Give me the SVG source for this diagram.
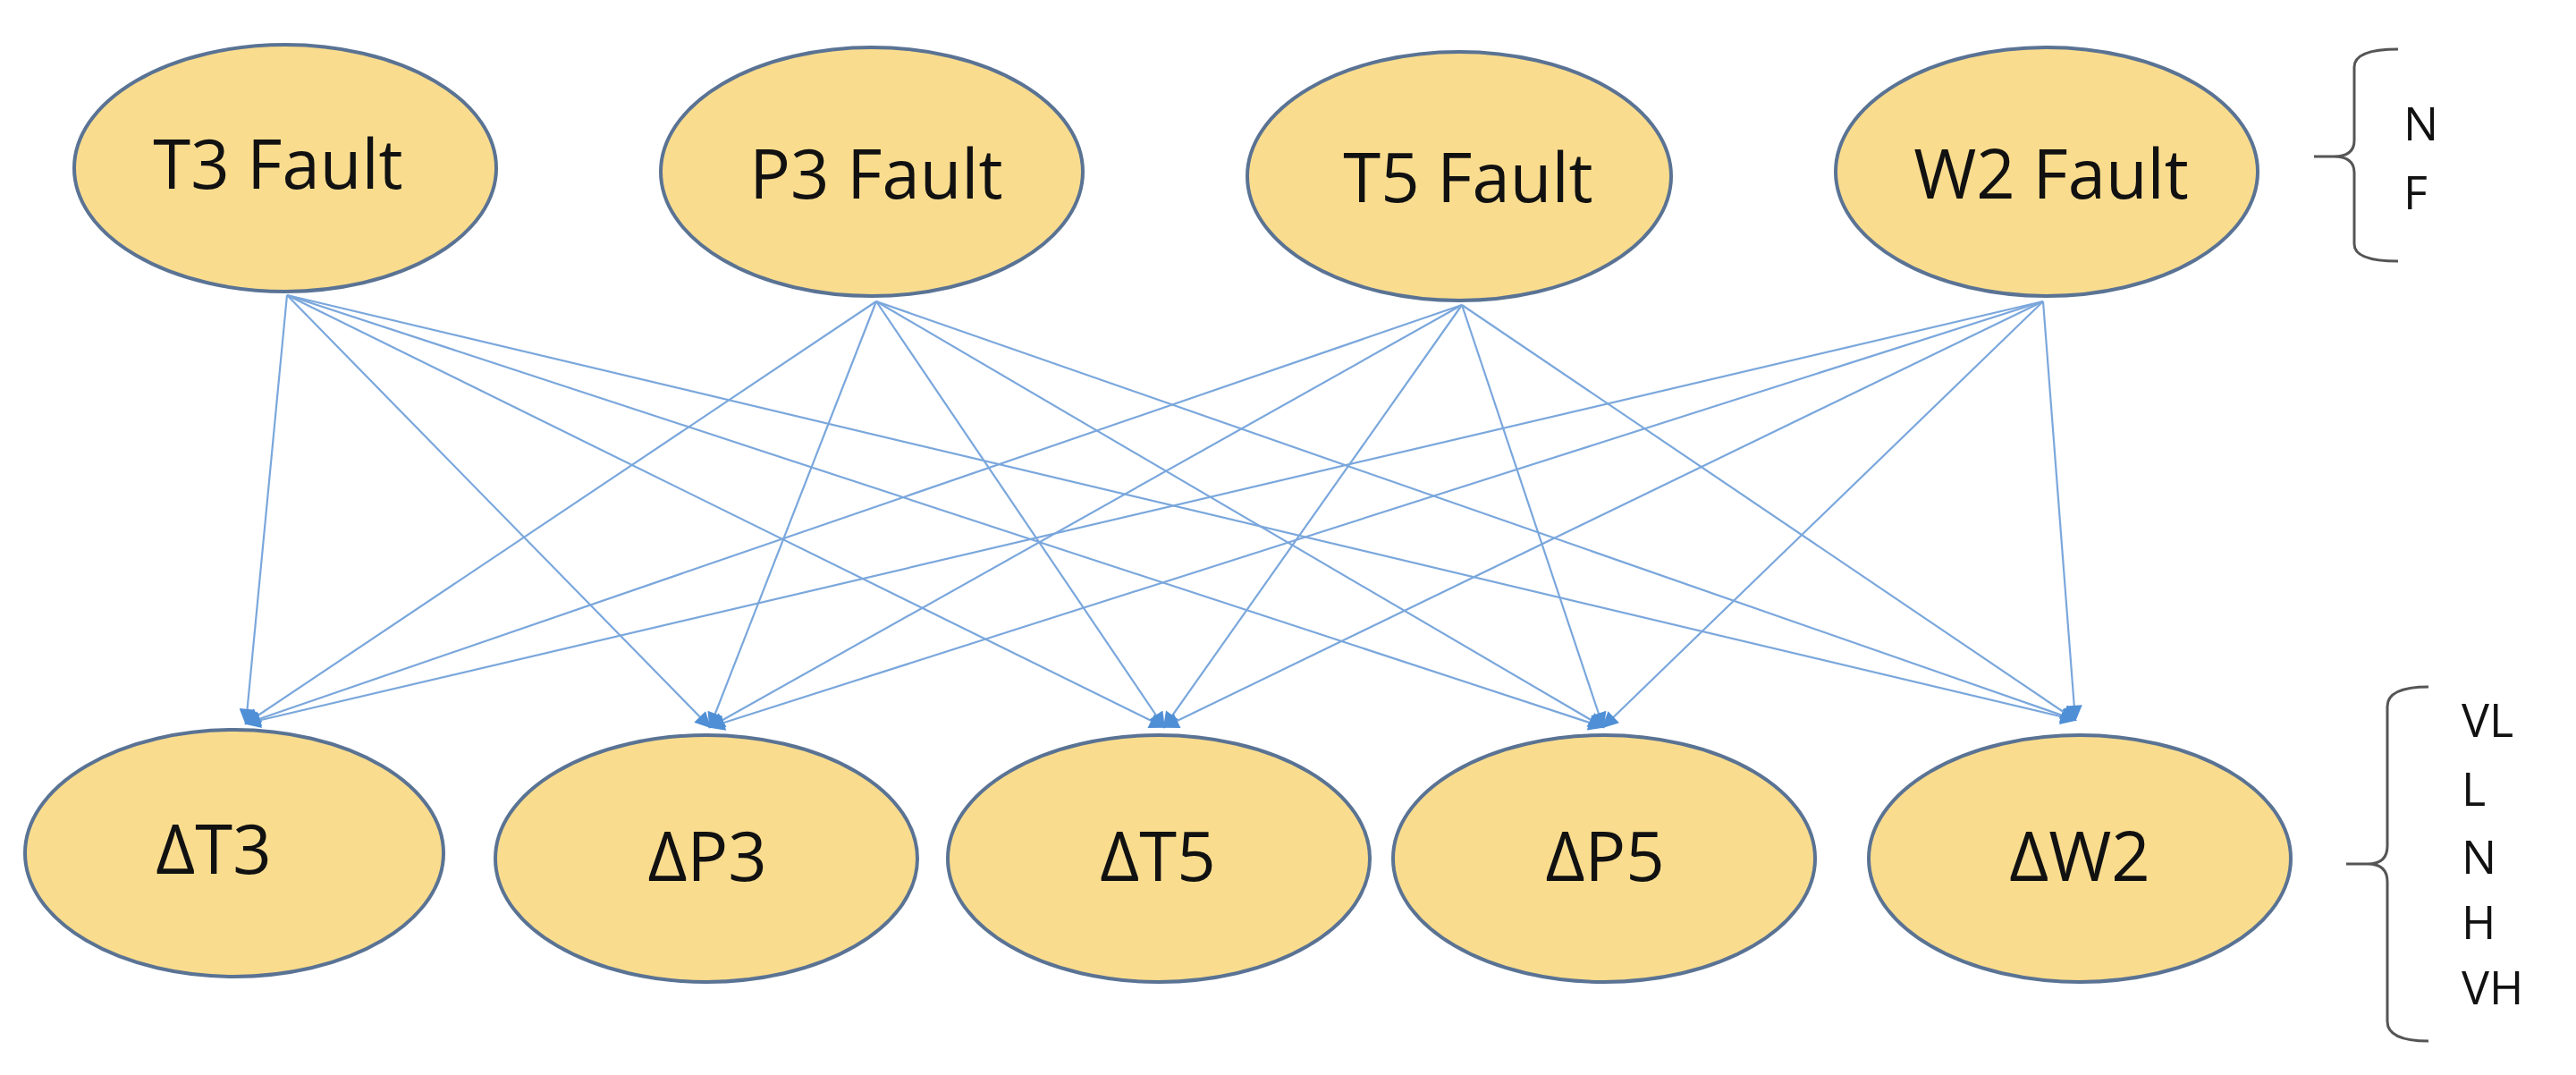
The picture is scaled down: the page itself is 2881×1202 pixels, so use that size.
<svg xmlns="http://www.w3.org/2000/svg" width="2881" height="1202" viewBox="0 0 2881 1202">
<defs>
<style>
.n{fill:#f9dc8e;stroke:#5a7394;stroke-width:4}
.t{font-family:"Open Sans","Liberation Sans",sans-serif;font-size:76px;fill:#111;text-anchor:middle}
.s{font-family:"Open Sans","Liberation Sans",sans-serif;font-size:52px;fill:#111}
.e{stroke:#7aa7dc;stroke-width:2.2;fill:none;marker-end:url(#a)}
.b{stroke:#555;stroke-width:3;fill:none}
</style>
<marker id="a" viewBox="0 0 10 10" refX="9" refY="5" markerWidth="20" markerHeight="18" markerUnits="userSpaceOnUse" orient="auto"><path d="M0,0 L10,5 L0,10 z" fill="#4f8fd6"/></marker>
</defs>
<rect width="2881" height="1202" fill="#fff"/>
<g id="edges">
<line class="e" x1="321" y1="330" x2="275" y2="809"/>
<line class="e" x1="321" y1="330" x2="794" y2="813"/>
<line class="e" x1="321" y1="330" x2="1302" y2="813"/>
<line class="e" x1="321" y1="330" x2="1793" y2="813"/>
<line class="e" x1="321" y1="330" x2="2321" y2="805"/>
<line class="e" x1="980" y1="337" x2="275" y2="809"/>
<line class="e" x1="980" y1="337" x2="794" y2="813"/>
<line class="e" x1="980" y1="337" x2="1302" y2="813"/>
<line class="e" x1="980" y1="337" x2="1793" y2="813"/>
<line class="e" x1="980" y1="337" x2="2321" y2="805"/>
<line class="e" x1="1635" y1="341" x2="275" y2="809"/>
<line class="e" x1="1635" y1="341" x2="794" y2="813"/>
<line class="e" x1="1635" y1="341" x2="1302" y2="813"/>
<line class="e" x1="1635" y1="341" x2="1793" y2="813"/>
<line class="e" x1="1635" y1="341" x2="2321" y2="805"/>
<line class="e" x1="2285" y1="337" x2="275" y2="809"/>
<line class="e" x1="2285" y1="337" x2="794" y2="813"/>
<line class="e" x1="2285" y1="337" x2="1302" y2="813"/>
<line class="e" x1="2285" y1="337" x2="1793" y2="813"/>
<line class="e" x1="2285" y1="337" x2="2321" y2="805"/>
</g>
<g id="T3F"><ellipse class="n" cx="319" cy="188" rx="236" ry="138"/><text class="t" x="311" y="211">T3 Fault</text></g>
<g id="P3F"><ellipse class="n" cx="975" cy="192" rx="236" ry="139"/><text class="t" x="980" y="222">P3 Fault</text></g>
<g id="T5F"><ellipse class="n" cx="1632" cy="197" rx="237" ry="139"/><text class="t" x="1642" y="226">T5 Fault</text></g>
<g id="W2F"><ellipse class="n" cx="2289" cy="192" rx="236" ry="139"/><text class="t" x="2294" y="222">W2 Fault</text></g>
<g id="dT3"><ellipse class="n" cx="262" cy="954" rx="234" ry="138"/><text class="t" x="239" y="977">ΔT3</text></g>
<g id="dP3"><ellipse class="n" cx="790" cy="960" rx="236" ry="138"/><text class="t" x="791" y="985">ΔP3</text></g>
<g id="dT5"><ellipse class="n" cx="1296" cy="960" rx="236" ry="138"/><text class="t" x="1295" y="985">ΔT5</text></g>
<g id="dP5"><ellipse class="n" cx="1794" cy="960" rx="236" ry="138"/><text class="t" x="1795" y="985">ΔP5</text></g>
<g id="dW2"><ellipse class="n" cx="2326" cy="960" rx="236" ry="138"/><text class="t" x="2326" y="985">ΔW2</text></g>
<g id="legend-top">
<path class="b" d="M2682,55 Q2633,55 2633,75 L2633,157 Q2633,175 2610,175 L2588,175 M2610,175 Q2633,175 2633,193 L2633,273 Q2633,292 2682,292"/>
<text class="s" x="2688" y="157">N</text>
<text class="s" x="2688" y="234">F</text>
</g>
<g id="legend-bottom">
<path class="b" d="M2716,768 Q2670,768 2670,790 L2670,946 Q2670,966 2648,966 L2624,966 M2648,966 Q2670,966 2670,986 L2670,1142 Q2670,1164 2716,1164"/>
<text class="s" x="2753" y="824">VL</text>
<text class="s" x="2753" y="901">L</text>
<text class="s" x="2753" y="977">N</text>
<text class="s" x="2753" y="1050">H</text>
<text class="s" x="2753" y="1123">VH</text>
</g>
</svg>
